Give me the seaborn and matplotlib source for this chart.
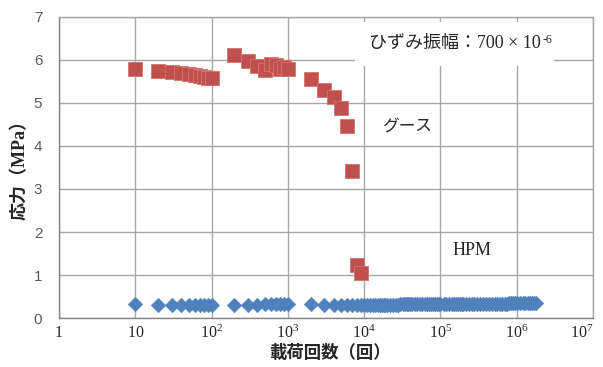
import matplotlib
matplotlib.use("Agg")
import matplotlib.pyplot as plt
import seaborn as sns
import pandas as pd

# Grease (グース) fatigue test: load cycles vs. stress
grease_cycles = [10, 20, 30, 40, 50, 60, 70, 80, 90, 100,
                 200, 300, 400, 500, 600, 700, 800, 900, 1000,
                 2000, 3000, 4000, 5000, 6000, 7000, 8000, 9000]
grease_stress = [5.80, 5.75, 5.72, 5.70, 5.67, 5.65, 5.62, 5.60, 5.58, 5.57,
                 6.12, 5.97, 5.86, 5.76, 5.90, 5.88, 5.80, 5.84, 5.80,
                 5.55, 5.30, 5.13, 4.88, 4.47, 3.42, 1.23, 1.05]

# HPM fatigue test: load cycles vs. stress
hpm_cycles = [10, 20, 30, 40, 50, 60, 70, 80, 90, 100,
              200, 300, 400, 500, 600, 700, 800, 900, 1000,
              2000, 3000, 4000, 5000, 6000, 7000, 8000, 9000,
              10000, 11000, 12000, 13000, 14000, 15000, 16000, 17000, 18000, 19000, 20000,
              22000, 24000, 26000, 28000, 30000, 32000, 34000, 36000, 38000, 40000,
              43000, 46000, 50000, 54000, 58000, 62000, 66000, 70000,
              75000, 80000, 85000, 90000, 95000, 100000,
              110000, 120000, 130000, 140000, 150000, 160000, 170000, 180000, 190000, 200000,
              220000, 240000, 260000, 280000, 300000,
              330000, 360000, 400000, 440000, 480000, 520000, 560000, 600000,
              650000, 700000, 750000, 800000, 850000, 900000, 950000, 1000000,
              1100000, 1200000, 1300000, 1400000, 1500000, 1600000, 1700000, 1800000]
hpm_stress = [0.32, 0.31, 0.31, 0.31, 0.31, 0.31, 0.31, 0.31, 0.31, 0.31,
              0.31, 0.31, 0.31, 0.32, 0.32, 0.32, 0.32, 0.32, 0.32,
              0.32, 0.31, 0.31, 0.31, 0.31, 0.31, 0.31, 0.31,
              0.31, 0.31, 0.31, 0.31, 0.31, 0.31, 0.31, 0.31, 0.31, 0.31, 0.31,
              0.31, 0.31, 0.31, 0.31, 0.32, 0.32, 0.32, 0.32, 0.32, 0.32,
              0.32, 0.32, 0.32, 0.32, 0.32, 0.32, 0.32, 0.32,
              0.32, 0.32, 0.32, 0.32, 0.32, 0.32,
              0.32, 0.32, 0.32, 0.33, 0.33, 0.33, 0.33, 0.33, 0.33, 0.33,
              0.33, 0.33, 0.33, 0.33, 0.33,
              0.33, 0.33, 0.33, 0.33, 0.33, 0.33, 0.33, 0.33,
              0.33, 0.33, 0.33, 0.34, 0.34, 0.34, 0.34, 0.34,
              0.34, 0.34, 0.34, 0.34, 0.34, 0.34, 0.34, 0.34]

x_ticks = [1, 10, 100, 1000, 10000, 100000, 1000000, 10000000]
x_tick_labels = [r"$1$", r"$10$", r"$10^2$", r"$10^3$", r"$10^4$", r"$10^5$", r"$10^6$", r"$10^7$"]
y_ticks = [0, 1, 2, 3, 4, 5, 6, 7]

grease_df = pd.DataFrame({"cycles": grease_cycles, "stress": grease_stress})
hpm_df = pd.DataFrame({"cycles": hpm_cycles, "stress": hpm_stress})

sns.set_theme(style="white")
plt.rcParams["font.family"] = ["Liberation Serif", "Noto Sans CJK JP", "DejaVu Sans"]
plt.rcParams["mathtext.fontset"] = "custom"
plt.rcParams["mathtext.rm"] = "Liberation Serif"
plt.rcParams["mathtext.it"] = "Liberation Serif:italic"
plt.rcParams["mathtext.bf"] = "Liberation Serif:bold"

RED = "#C0504D"
BLUE = "#4F81BD"
GRID = "#A6A6A6"
AXIS = "#868686"
TEXT = "#262626"

fig = plt.figure(figsize=(6.03, 3.67), dpi=100)
ax = fig.add_axes([0.0978, 0.1335, 0.8855, 0.8202])

sns.scatterplot(data=hpm_df, x="cycles", y="stress", ax=ax, marker="D",
                s=56, color=BLUE, edgecolor=BLUE, linewidth=0.3, zorder=3)
sns.scatterplot(data=grease_df, x="cycles", y="stress", ax=ax, marker="s",
                s=95, color=RED, edgecolor="#D27370", linewidth=0.6, zorder=4)

ax.set_xscale("log")
ax.set_xlim(1, 1e7)
ax.set_ylim(0, 7)
ax.set_xticks(x_ticks)
ax.set_xticklabels(x_tick_labels)
ax.set_yticks(y_ticks)
ax.minorticks_off()
ax.tick_params(axis="both", length=0, colors="#404040")
ax.tick_params(axis="x", pad=5, labelsize=11.5)
ax.tick_params(axis="y", pad=12, labelsize=11)
for lab in ax.get_xticklabels():
    lab.set_color("#262626")
for lab in ax.get_yticklabels():
    lab.set_family(["Liberation Sans", "DejaVu Sans"])
    lab.set_color("#595959")
# keep the last decade label inside the figure
ax.get_xticklabels()[-1].set_horizontalalignment("right")
ax.get_xticklabels()[-1].set_x(1e7)

ax.grid(True, which="major", color=GRID, linewidth=1.0)
ax.set_axisbelow(True)
for side in ["left", "bottom"]:
    ax.spines[side].set_color(AXIS)
    ax.spines[side].set_linewidth(1.0)
for side in ["right", "top"]:
    ax.spines[side].set_color(GRID)
    ax.spines[side].set_linewidth(1.0)

ax.set_xlabel("")
ax.set_ylabel("")
fig.text(0.547, 0.038, "載荷回数（回）", ha="center", va="center",
         fontsize=12.5, fontweight="bold", color=TEXT,
         family=["Noto Sans CJK JP", "DejaVu Sans"])
fig.text(0.034, 0.55, "応力（MPa）", ha="center", va="center", rotation=90,
         fontsize=13, fontweight="bold", color=TEXT,
         family=["Liberation Serif", "Noto Sans CJK JP"])

ax.text(3.6e4, 4.44, "グース", ha="center", va="center", fontsize=12,
        color=TEXT, family=["Noto Sans CJK JP", "DejaVu Sans"])
ax.text(2.6e5, 1.58, "HPM", ha="center", va="center", fontsize=13,
        color=TEXT, family=["Liberation Serif", "DejaVu Sans"])

# strain amplitude note: main text in a white box, exponent set as a raised small text
note = ax.text(1.55e5, 6.38, "ひずみ振幅：700 × 10", ha="center", va="center",
               fontsize=13, color=TEXT,
               family=["Liberation Serif", "Noto Sans CJK JP"],
               bbox=dict(boxstyle="square,pad=0.75", facecolor="white", edgecolor="none"),
               zorder=5)
ax.annotate("-6", xy=(1.0, 0.72), xycoords=note, ha="left", va="center",
            fontsize=8.5, color=TEXT, family=["Liberation Serif", "DejaVu Sans"],
            xytext=(1, 0), textcoords="offset points", zorder=6)

fig.savefig("out.png", dpi=100)
